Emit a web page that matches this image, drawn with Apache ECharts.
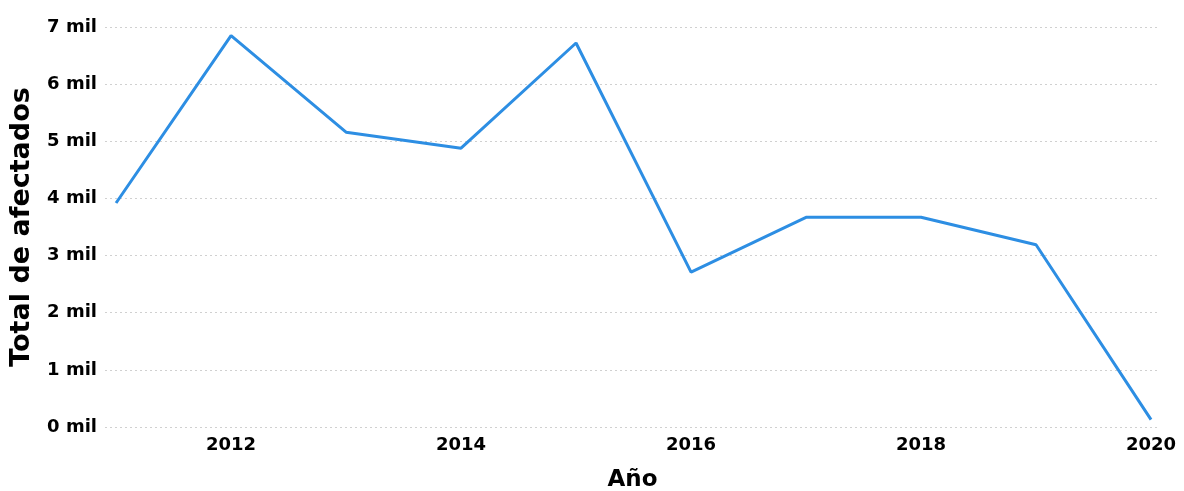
<!DOCTYPE html>
<html><head><meta charset="utf-8">
<script src="https://cdn.jsdelivr.net/npm/echarts@6/dist/echarts.min.js"></script>
<style>html,body{margin:0;padding:0;background:#fff}#c{width:1184px;height:491px}</style>
</head><body><div id="c"></div>
<script>
const years = [2011, 2012, 2013, 2014, 2015, 2016, 2017, 2018, 2019, 2020];
const afectados = [3920, 6850, 5160, 4880, 6720, 2710, 3670, 3670, 3190, 130];
const xTicks = [2012, 2014, 2016, 2018, 2020];

const chart = echarts.init(document.getElementById('c'), null, {renderer: 'canvas'});
const font = '"DejaVu Sans", "Liberation Sans", Arial, sans-serif';
chart.setOption({
  animation: false,
  backgroundColor: '#ffffff',
  grid: {left: 105, right: 24, top: 27, bottom: 64, containLabel: false, outerBoundsMode: 'none'},
  xAxis: {
    type: 'value', min: 2010.904, max: 2020.078,
    name: 'Año', nameLocation: 'middle', nameGap: 42,
    nameTextStyle: {fontFamily: font, fontWeight: 'bold', fontSize: 23, color: '#000'},
    axisLine: {show: false}, axisTick: {show: false},
    splitLine: {show: false},
    axisLabel: {customValues: xTicks, fontFamily: font, fontWeight: 'bold', fontSize: 18, color: '#000', margin: 9,
      formatter: v => String(v)}
  },
  yAxis: {
    type: 'value', min: 0, max: 7000, interval: 1000,
    name: 'Total de afectados', nameLocation: 'middle', nameGap: 70,
    nameTextStyle: {fontFamily: font, fontWeight: 'bold', fontSize: 27, color: '#000'},
    axisLine: {show: false}, axisTick: {show: false},
    splitLine: {show: true, lineStyle: {color: '#d0d0d0', type: [2, 3], width: 1}},
    axisLabel: {fontFamily: font, fontWeight: 'bold', fontSize: 18, color: '#000', margin: 8,
      formatter: v => (v / 1000) + ' mil'}
  },
  series: [{
    type: 'line',
    data: years.map((y, i) => [y, afectados[i]]),
    showSymbol: false,
    lineStyle: {color: '#2d8ee3', width: 3},
    itemStyle: {color: '#2d8ee3'}
  }]
});
</script></body></html>
